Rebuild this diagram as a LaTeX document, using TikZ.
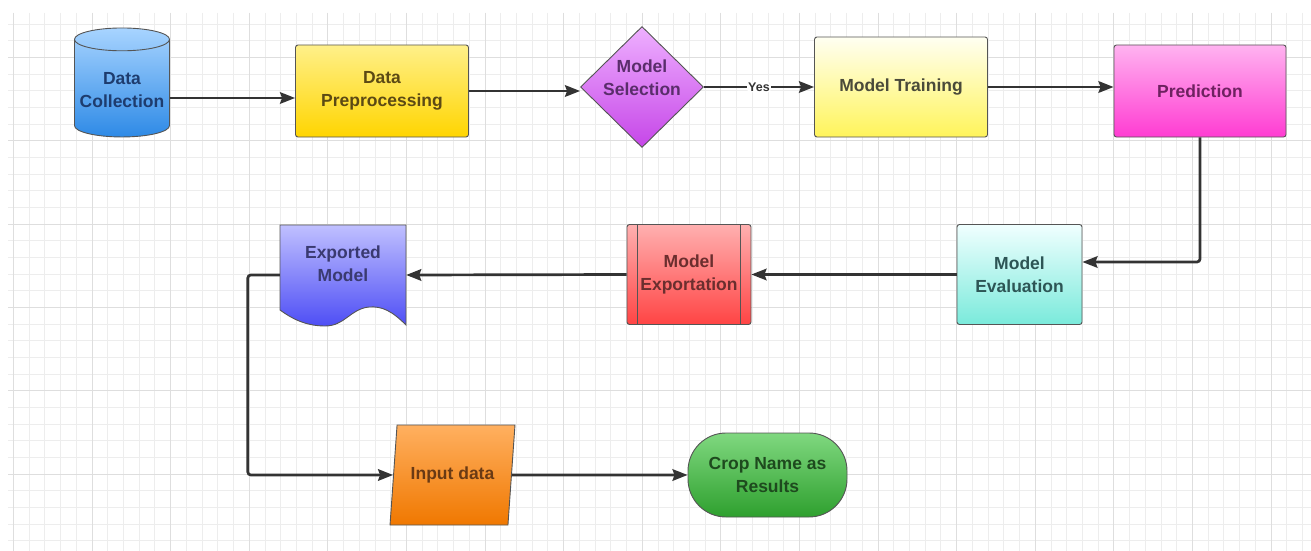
\documentclass[tikz,border=0pt]{standalone}
\usepackage{fontspec}
\setmainfont{Liberation Sans}
\usetikzlibrary{shapes.geometric,arrows.meta}

\definecolor{lineg}{HTML}{333333}
\definecolor{edgeg}{HTML}{555555}
% fills: top, bottom, text
\definecolor{dcT}{HTML}{A8D4FF}\definecolor{dcB}{HTML}{2E8AE6}\definecolor{dcX}{HTML}{1E3C6E}
\definecolor{dpT}{HTML}{FFF08A}\definecolor{dpB}{HTML}{FFD500}\definecolor{dpX}{HTML}{5C4A14}
\definecolor{msT}{HTML}{EEB0FF}\definecolor{msB}{HTML}{C646E8}\definecolor{msX}{HTML}{5A2D6B}
\definecolor{mtT}{HTML}{FFFFF2}\definecolor{mtB}{HTML}{FFF45A}\definecolor{mtX}{HTML}{4A4A3A}
\definecolor{prT}{HTML}{FFB3F0}\definecolor{prB}{HTML}{FF3CD2}\definecolor{prX}{HTML}{6E2160}
\definecolor{evT}{HTML}{F0FFFF}\definecolor{evB}{HTML}{7AEADB}\definecolor{evX}{HTML}{2D5555}
\definecolor{exT}{HTML}{FFB0B0}\definecolor{exB}{HTML}{FF4444}\definecolor{exX}{HTML}{6B2E2E}
\definecolor{emT}{HTML}{C0C0FF}\definecolor{emB}{HTML}{4E4EF5}\definecolor{emX}{HTML}{3A3A70}
\definecolor{inT}{HTML}{FFB060}\definecolor{inB}{HTML}{F07800}\definecolor{inX}{HTML}{6A3A14}
\definecolor{crT}{HTML}{80D880}\definecolor{crB}{HTML}{2EA02E}\definecolor{crX}{HTML}{1E4A1E}

\begin{document}
\begin{tikzpicture}[x=1pt,y=-1pt,
    txt/.style={align=center, font=\bfseries\fontsize{17.5}{23}\selectfont},
    box/.style={txt, rectangle, rounded corners=2.5pt, draw=edgeg, line width=0.9pt},
    grad/.style={top color=#1T, bottom color=#1B, text=#1X},
    cyl/.style={txt, cylinder, shape border rotate=90, aspect=0.25, draw=edgeg, line width=0.9pt},
    dia/.style={txt, diamond, inner sep=0pt, draw=edgeg, line width=0.9pt},
    para/.style={txt, trapezium, trapezium left angle=76, trapezium right angle=104,
        trapezium stretches=true, draw=edgeg, line width=0.9pt},
    flow/.style={line width=2.7pt, draw=lineg, rounded corners=3pt,
        -{Stealth[length=15pt,width=11.5pt,inset=2pt]}},
    yes/.style={font=\bfseries\fontsize{12.5}{14}\selectfont, text=lineg, fill=white, inner sep=1pt}]

    \useasboundingbox (0,0) rectangle (1311,551);
    \fill[white] (0,0) rectangle (1311,551);

    %background grid
    \foreach \i in {0,...,82}
        \draw[black!7, line width=0.8pt] ({13.4+15.72*\i},13) -- ({13.4+15.72*\i},551);
    \foreach \j in {0,...,31}
        \draw[black!7, line width=0.8pt] (8,{24+16.67*\j}) -- (1311,{24+16.67*\j});
    \foreach \i in {0,5,...,80}
        \draw[black!13, line width=0.9pt] ({13.4+15.72*\i},13) -- ({13.4+15.72*\i},551);
    \foreach \j in {2,7,...,27}
        \draw[black!13, line width=0.9pt] (8,{24+16.67*\j}) -- (1311,{24+16.67*\j});

    %top row
    \node[cyl, grad=dc, minimum width=95, minimum height=109] at (122,90.5) (dc) {Data\\Collection};
    \node[box, grad=dp, minimum width=173, minimum height=92] at (382,91) (dp) {Data\\Preprocessing};
    \node[dia, grad=ms, minimum width=123, minimum height=121] at (642,87) (ms) {};
    \node[txt, text=msX] at ([yshift=9pt]ms.center) (mst) {Model\\Selection};
    \node[box, grad=mt, minimum width=173, minimum height=100] at (901,87) (mt) {Model Training};
    \node[box, grad=pr, minimum width=172, minimum height=92] at (1200,91) (pr) {Prediction};

    %middle row
    \node[box, grad=ev, minimum width=125, minimum height=100] at (1019.5,274.5) (ev) {Model\\Evaluation};
    \node[box, grad=ex, minimum width=124, minimum height=100] at (689,274.5) (ex) {Model\\Exportation};
    \draw[edgeg, line width=0.8pt] ([xshift=11pt]ex.north west) -- ([xshift=11pt]ex.south west);
    \draw[edgeg, line width=0.8pt] ([xshift=-11pt]ex.north east) -- ([xshift=-11pt]ex.south east);

    \shade[top color=emT, bottom color=emB, draw=edgeg, line width=0.9pt]
        (280,225) -- (406,225) -- (406,325)
        .. controls (392,311) and (382,306) .. (369,307)
        .. controls (350,309) and (345,326) .. (325,326)
        .. controls (305,326) and (291,318) .. (280,310) -- cycle;
    \node[minimum width=126, minimum height=100, inner sep=0pt] at (343,275) (em) {};
    \node[txt, text=emX] at ([yshift=11pt]em.center) (emt) {Exported\\Model};

    %bottom row
    \node[para, grad=in, minimum width=125, minimum height=100] at (452.5,475) (inp) {Input data};
    \node[box, rounded corners=38pt, grad=cr, minimum width=159, minimum height=84] at (767.5,475) (cr) {Crop Name as\\Results};

    %connections
    \draw[flow] ([yshift=-7pt]dp.west -| dc.east) -- ([yshift=-7pt]dp.west);
    \draw[flow] (dp.east) -- (dp.east -| ms.west);
    \draw[flow] (ms.east) -- (mt.west) node[midway, yes] {Yes};
    \draw[flow] (mt.east) -- (mt.east -| pr.west);
    \draw[flow] (pr.south) |- ([yshift=12.5pt]ev.east);
    \draw[flow] (ev.west) -- (ex.east);
    \draw[flow] (ex.west) -- (em.east);
    \draw[flow] (em.west) -- ++(-32,0) |- (inp.west);
    \draw[flow] (inp.east) -- (cr.west);

\end{tikzpicture}
\end{document}
